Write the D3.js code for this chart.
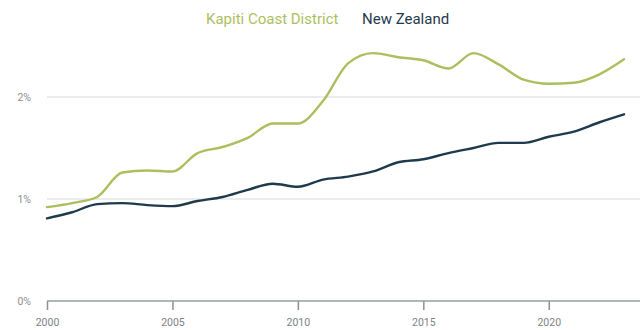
<!DOCTYPE html>
<html>
<head>
<meta charset="utf-8">
<script src="https://cdn.jsdelivr.net/npm/d3@7"></script>
<style>
  html, body { margin: 0; padding: 0; background: #fff; }
  svg { display: block; font-family: Roboto, "Noto Sans", sans-serif; }
</style>
</head>
<body>
<svg id="chart" width="640" height="330"></svg>
<script>
// Annual population growth rate (%), 2000–2023
const years = d3.range(2000, 2024);
const kapiti = [0.92, 0.96, 1.02, 1.26, 1.28, 1.27, 1.45, 1.51, 1.60, 1.74, 1.74, 1.96, 2.33, 2.43, 2.39, 2.36, 2.28, 2.43, 2.32, 2.17, 2.13, 2.14, 2.22, 2.37];
const newZealand = [0.81, 0.87, 0.95, 0.96, 0.94, 0.93, 0.98, 1.02, 1.09, 1.15, 1.12, 1.19, 1.22, 1.27, 1.36, 1.39, 1.45, 1.50, 1.55, 1.55, 1.61, 1.66, 1.75, 1.83];
const yTicks = [0, 1, 2];
const xTicks = [2000, 2005, 2010, 2015, 2020];
const seriesNames = ["Kapiti Coast District", "New Zealand"];
const seriesColors = ["#acbf5e", "#1f3a4d"];

const svg = d3.select("#chart");
const W = 640;

const x = d3.scaleLinear().domain([2000, 2023]).range([47, 624]);
const y = d3.scaleLinear().domain([0, 2]).range([301, 97]);

// horizontal gridlines
svg.append("g")
  .selectAll("line")
  .data(yTicks.filter(d => d > 0))
  .join("line")
  .attr("x1", 47).attr("x2", W)
  .attr("y1", d => y(d)).attr("y2", d => y(d))
  .attr("stroke", "#d5dadb").attr("stroke-width", 1.2);

// y labels
svg.append("g")
  .selectAll("text")
  .data(yTicks)
  .join("text")
  .attr("x", 31).attr("y", d => y(d) + 4)
  .attr("text-anchor", "end")
  .attr("font-size", 10.5)
  .attr("fill", "#8a8f93")
  .text(d => d + "%");

// x axis
const xAxis = d3.axisBottom(x).tickValues(xTicks).tickFormat(d3.format("d")).tickSize(9).tickSizeOuter(0);
const gx = svg.append("g").attr("transform", `translate(0,${y(0)})`).call(xAxis);
gx.select(".domain").remove();
gx.append("line").attr("x1", 47).attr("x2", W).attr("stroke", "#9a9ea1").attr("stroke-width", 1.5);
gx.selectAll(".tick line").attr("stroke", "#8c9093").attr("stroke-width", 1.5);
gx.selectAll(".tick text").attr("fill", "#7d8286").attr("font-size", 10.5)
  .attr("font-family", "Roboto, sans-serif").attr("dy", "1.25em");

// lines
const line = d3.line().x((d, i) => x(years[i])).y(d => y(d)).curve(d3.curveMonotoneX);
[kapiti, newZealand].forEach((s, i) => {
  svg.append("path")
    .datum(s)
    .attr("d", line)
    .attr("fill", "none")
    .attr("stroke", seriesColors[i])
    .attr("stroke-width", 2.4)
    .attr("stroke-linejoin", "round")
    .attr("stroke-linecap", "round");
});

// legend
const legend = svg.append("g").attr("font-size", 15);
legend.append("text").attr("x", 206).attr("y", 24).attr("fill", seriesColors[0]).text(seriesNames[0]);
legend.append("text").attr("x", 362).attr("y", 24).attr("fill", seriesColors[1]).text(seriesNames[1]);
</script>
</body>
</html>
